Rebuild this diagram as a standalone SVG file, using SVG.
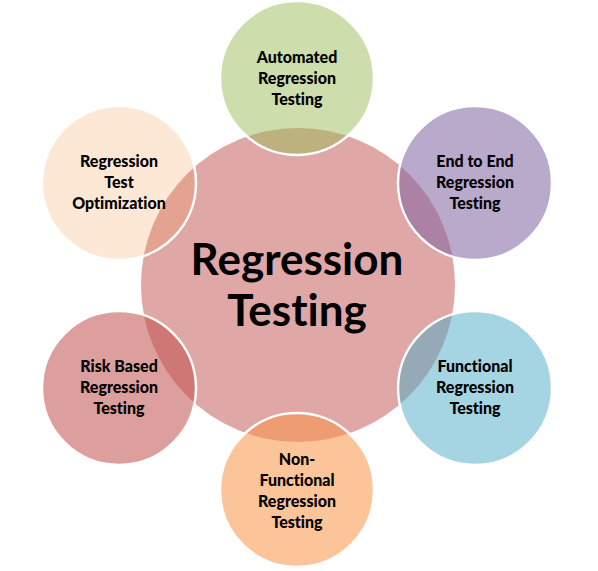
<svg xmlns="http://www.w3.org/2000/svg" width="598" height="571" viewBox="0 0 598 571">
<style>
.node circle{stroke:#ffffff;stroke-width:2.5}
text{font-variant-ligatures:none;font-feature-settings:"liga" 0,"dlig" 0}
.lbl{font-family:Lato,"Open Sans","Liberation Sans",sans-serif;font-weight:900;font-size:16px;fill:#000;text-anchor:middle}
.big{font-family:Lato,"Open Sans","Liberation Sans",sans-serif;font-weight:bold;font-size:44px;fill:#000;text-anchor:middle}
</style>
<rect width="598" height="571" fill="#ffffff"/>
<g id="center">
<circle cx="298" cy="285" r="157" fill="#C0504D" fill-opacity="0.5"/>
</g>
<g id="connectors"></g>
<g id="automated" class="node">
<circle cx="297" cy="78" r="77" fill="#9BBB59" fill-opacity="0.5"/>
<text class="lbl" x="297" y="63">Automated</text>
<text class="lbl" x="297" y="84">Regression</text>
<text class="lbl" x="297" y="105">Testing</text>
</g>
<g id="endtoend" class="node">
<circle cx="475" cy="183" r="77" fill="#8064A2" fill-opacity="0.55"/>
<text class="lbl" x="475" y="167">End to End</text>
<text class="lbl" x="475" y="188">Regression</text>
<text class="lbl" x="475" y="209">Testing</text>
</g>
<g id="functional" class="node">
<circle cx="475" cy="388" r="77" fill="#4BACC6" fill-opacity="0.5"/>
<text class="lbl" x="475" y="372">Functional</text>
<text class="lbl" x="475" y="393">Regression</text>
<text class="lbl" x="475" y="414">Testing</text>
</g>
<g id="nonfunctional" class="node">
<circle cx="297" cy="490" r="77" fill="#F79646" fill-opacity="0.55"/>
<text class="lbl" x="297" y="465">Non-</text>
<text class="lbl" x="297" y="486">Functional</text>
<text class="lbl" x="297" y="507">Regression</text>
<text class="lbl" x="297" y="528">Testing</text>
</g>
<g id="riskbased" class="node">
<circle cx="119" cy="388" r="77" fill="#C0504D" fill-opacity="0.55"/>
<text class="lbl" x="119" y="372">Risk Based</text>
<text class="lbl" x="119" y="393">Regression</text>
<text class="lbl" x="119" y="414">Testing</text>
</g>
<g id="optimization" class="node">
<circle cx="119" cy="183" r="77" fill="#F79646" fill-opacity="0.22"/>
<text class="lbl" x="119" y="167">Regression</text>
<text class="lbl" x="119" y="188">Test</text>
<text class="lbl" x="119" y="209">Optimization</text>
</g>
<g id="title">
<text class="big" x="297" y="275">Regression</text>
<text class="big" x="297" y="326">Testing</text>
</g>
</svg>
